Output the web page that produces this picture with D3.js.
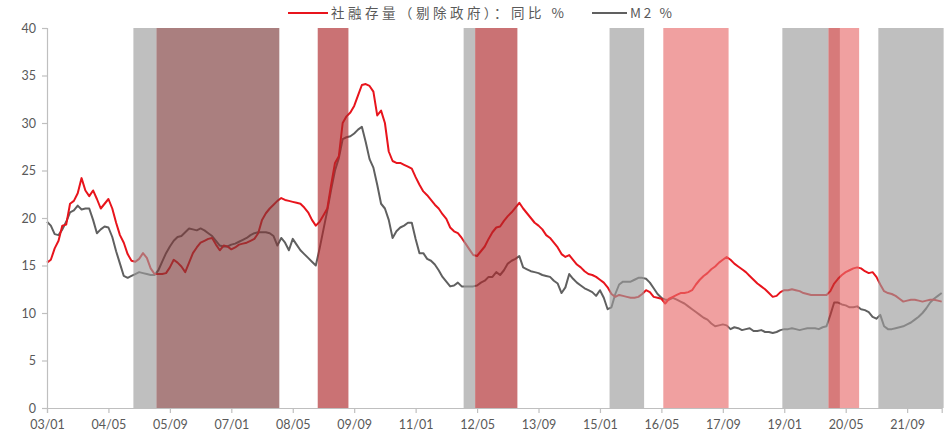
<!DOCTYPE html>
<html>
<head>
<meta charset="utf-8">
<script src="https://cdn.jsdelivr.net/npm/d3@7"></script>
<style>
  html, body { margin: 0; padding: 0; background: #fff; }
  svg { display: block; }
  text { font-family: Lato, "Noto Sans CJK SC", sans-serif; fill: #595959; }
</style>
</head>
<body>
<svg id="chart" width="945" height="447"></svg>
<script>
// Monthly categories, 2003-01 through 2022-06
const months = d3.timeMonth.range(new Date(2003, 0, 1), new Date(2022, 6, 1));
const categories = months.map(d3.timeFormat("%y/%m"));

// 社融存量（剔除政府）同比 %
const tsfExGov = [
  15.3, 15.6, 16.8, 17.6, 19.2, 19.3, 21.5, 21.8, 22.6, 24.2,
  22.9, 22.3, 22.9, 22.0, 21.0, 21.5, 22.0, 21.0, 19.5, 18.2,
  17.4, 16.2, 15.5, 15.4, 15.7, 16.3, 15.8, 14.7, 14.1, 14.1,
  14.1, 14.2, 14.8, 15.6, 15.3, 14.9, 14.3, 15.3, 16.3, 16.9,
  17.4, 17.6, 17.8, 17.9, 17.2, 16.6, 17.1, 17.0, 16.7, 16.9,
  17.2, 17.3, 17.4, 17.6, 17.8, 18.4, 19.8, 20.5, 21.0, 21.4,
  21.8, 22.1, 21.9, 21.8, 21.7, 21.6, 21.5, 21.1, 20.6, 19.8,
  19.2, 19.6, 20.3, 21.0, 23.5, 25.8, 26.5, 30.0, 30.7, 31.1,
  31.8, 32.9, 34.0, 34.1, 33.9, 33.3, 30.8, 31.3, 30.0, 27.0,
  26.0, 25.8, 25.8, 25.6, 25.4, 25.2, 24.3, 23.5, 22.8, 22.4,
  21.9, 21.4, 21.0, 20.4, 19.9, 19.0, 18.6, 18.4, 17.9, 17.3,
  16.7, 16.1, 16.0, 16.5, 17.0, 17.8, 18.5, 19.0, 19.1, 19.7,
  20.2, 20.6, 21.1, 21.6, 21.0, 20.5, 20.0, 19.5, 19.2, 18.8,
  18.2, 17.9, 17.4, 16.9, 16.2, 15.9, 16.1, 15.6, 15.1, 14.8,
  14.4, 14.1, 14.0, 13.8, 13.5, 13.2, 12.7, 12.0, 11.7, 11.9,
  11.8, 11.7, 11.6, 11.6, 11.7, 12.0, 12.4, 12.2, 11.7, 11.6,
  11.5, 11.0, 11.5, 11.7, 11.9, 12.1, 12.1, 12.2, 12.4, 13.0,
  13.5, 13.9, 14.2, 14.6, 14.9, 15.3, 15.6, 15.9, 15.6, 15.2,
  14.9, 14.6, 14.3, 13.9, 13.5, 13.1, 12.8, 12.5, 12.1, 11.7,
  11.8, 12.2, 12.4, 12.4, 12.5, 12.4, 12.3, 12.1, 12.0, 11.9,
  11.9, 11.9, 11.9, 11.9, 12.3, 13.1, 13.6, 14.0, 14.3, 14.5,
  14.7, 14.8, 14.7, 14.4, 14.2, 14.3, 13.8, 13.0, 12.3, 12.1,
  12.0, 11.8, 11.5, 11.2, 11.3, 11.4, 11.4, 11.3, 11.2, 11.3,
  11.4, 11.4, 11.3, 11.2
];

// M2 同比 %
const m2 = [
  19.6, 19.2, 18.3, 18.2, 18.8, 19.6, 20.6, 20.8, 21.3, 20.9,
  21.0, 21.0, 19.8, 18.4, 18.8, 19.1, 19.0, 18.0, 16.5, 15.2,
  13.9, 13.7, 13.9, 14.1, 14.3, 14.2, 14.1, 14.0, 14.0, 14.5,
  15.4, 16.3, 17.0, 17.6, 18.0, 18.1, 18.5, 18.9, 18.8, 18.7,
  18.9, 18.7, 18.4, 18.1, 17.6, 17.1, 17.0, 17.0, 17.2, 17.3,
  17.5, 17.7, 17.9, 18.2, 18.4, 18.5, 18.5, 18.5, 18.4, 18.1,
  17.1, 17.9, 17.4, 16.6, 17.8, 17.2, 16.6, 16.2, 15.8, 15.4,
  15.0, 16.8, 18.8, 20.8, 23.0, 25.0, 26.3, 28.3, 28.5, 28.6,
  28.9, 29.3, 29.6, 28.0, 26.2, 25.3, 23.5, 21.5, 21.0, 19.8,
  17.9, 18.6, 19.0, 19.2, 19.5, 19.5, 17.8, 16.3, 16.3, 15.7,
  15.5, 15.1, 14.5, 13.8, 13.3, 12.8, 12.9, 13.2, 12.8, 12.8,
  12.8, 12.8, 12.9, 13.2, 13.4, 13.8, 13.8, 14.3, 14.0, 14.5,
  15.2, 15.5, 15.7, 16.0, 14.8, 14.6, 14.4, 14.3, 14.2, 14.0,
  13.9, 13.8, 13.4, 13.1, 12.1, 12.7, 14.1, 13.6, 13.2, 12.9,
  12.6, 12.4, 12.2, 11.8, 12.4, 11.6, 10.4, 10.6, 12.0, 13.0,
  13.3, 13.3, 13.3, 13.5, 13.7, 13.7, 13.6, 13.2, 12.6, 12.0,
  11.6, 11.4, 11.4, 11.6, 11.4, 11.2, 11.0, 10.7, 10.4, 10.1,
  9.8, 9.5, 9.3, 8.9, 8.6, 8.7, 8.8, 8.7, 8.3, 8.5,
  8.4, 8.2, 8.3, 8.4, 8.1, 8.1, 8.2, 8.0, 8.0, 7.9,
  8.0, 8.2, 8.3, 8.3, 8.4, 8.3, 8.2, 8.3, 8.4, 8.4,
  8.4, 8.3, 8.5, 8.6, 9.8, 11.1, 11.1, 10.9, 10.8, 10.6,
  10.6, 10.7, 10.4, 10.3, 10.1, 9.6, 9.4, 9.8, 8.6, 8.3,
  8.3, 8.4, 8.5, 8.6, 8.8, 9.0, 9.3, 9.6, 10.0, 10.5,
  11.1, 11.5, 11.8, 12.1
];

const xTickLabels = ["03/01", "04/05", "05/09", "07/01", "08/05", "09/09", "11/01", "12/05",
                     "13/09", "15/01", "16/05", "17/09", "19/01", "20/05", "21/09"];
const yTicks = [0, 5, 10, 15, 20, 25, 30, 35, 40];

// Shaded periods: first month, last month, shading group
const bandFrom = ["04/12", "05/06", "08/12", "12/02", "12/05", "15/04", "16/06", "19/01", "20/01", "20/04", "21/02"];
const bandTo   = ["05/05", "08/01", "09/07", "12/04", "13/03", "15/12", "17/10", "19/12", "20/03", "20/08", "22/06"];
const bandKind = ["g", "b", "r", "g", "r", "g", "p", "g", "d", "p", "g"];

const seriesNames = ["社融存量（剔除政府）：同比 %", "M2 %"];

// ---- drawing ----
const svg = d3.select("#chart");
const plotLeft = 47, plotRight = 941.7, plotTop = 28, plotBottom = 408;

const x = d3.scalePoint().domain(categories).range([plotLeft, plotRight]);
const step = x.step();
const y = d3.scaleLinear().domain([0, 40]).range([plotBottom, plotTop]);

const bandColor = { g: "#9d9d9d", b: "#7d3a3a", r: "#ae2729", p: "#e86d6d", d: "#c23232" };

const line = d3.line()
  .x((d, i) => x(categories[i]))
  .y(d => y(d));

const plot = svg.append("g");
plot.append("path")
  .datum(m2)
  .attr("fill", "none")
  .attr("stroke", "#606060")
  .attr("stroke-width", 2)
  .attr("stroke-linejoin", "round")
  .attr("d", line);
plot.append("path")
  .datum(tsfExGov)
  .attr("fill", "none")
  .attr("stroke", "#e8141c")
  .attr("stroke-width", 2)
  .attr("stroke-linejoin", "round")
  .attr("d", line);

// shaded periods sit over the lines, semi-transparent
svg.append("g")
  .selectAll("rect")
  .data(bandFrom.map((f, i) => ({ from: f, to: bandTo[i], kind: bandKind[i] })))
  .join("rect")
  .attr("x", d => x(d.from) - step / 2)
  .attr("width", d => x(d.to) - x(d.from) + step)
  .attr("y", y(40))
  .attr("height", y(0) - y(40))
  .attr("fill", d => bandColor[d.kind])
  .attr("fill-opacity", 0.65);

// axes
const yAxis = svg.append("g")
  .attr("transform", `translate(${plotLeft},0)`)
  .call(d3.axisLeft(y).tickValues(yTicks).tickSize(5).tickPadding(6));
const xAxis = svg.append("g")
  .attr("transform", `translate(0,${plotBottom})`)
  .call(d3.axisBottom(x).tickValues(xTickLabels).tickSize(5).tickPadding(7));

[yAxis, xAxis].forEach(g => {
  g.select(".domain").attr("stroke", "#bfbfbf").attr("stroke-width", 1.2);
  g.selectAll(".tick line").attr("stroke", "#bfbfbf").attr("stroke-width", 1.2);
  g.selectAll(".tick text")
    .style("font-family", "Lato, sans-serif")
    .style("font-size", "12.5px")
    .attr("fill", "#595959");
});

// legend
const legend = svg.append("g");
const legendItems = [
  { name: seriesNames[0], color: "#e8141c", x1: 288, x2: 328, tx: 331, tw: 233 },
  { name: seriesNames[1], color: "#606060", x1: 592, x2: 627, tx: 630, tw: 42 }
];
legendItems.forEach(it => {
  legend.append("line")
    .attr("x1", it.x1).attr("x2", it.x2)
    .attr("y1", 13).attr("y2", 13)
    .attr("stroke", it.color).attr("stroke-width", 2);
  legend.append("text")
    .attr("x", it.tx).attr("y", 18)
    .attr("textLength", it.tw)
    .attr("lengthAdjust", "spacing")
    .style("font-family", "'Noto Sans CJK SC', Lato, sans-serif")
    .style("font-size", "13.5px")
    .text(it.name);
});
</script>
</body>
</html>
